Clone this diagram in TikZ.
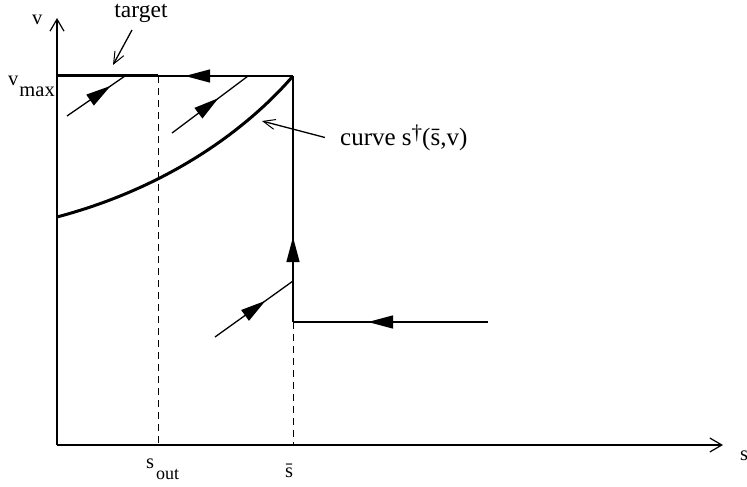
\documentclass[tikz,border=0pt]{standalone}
\usepackage{fontspec}
\setmainfont{Liberation Serif}
\usetikzlibrary{arrows.meta,decorations.markings}
\tikzset{
  thinl/.style={line width=1.3pt},
  thickl/.style={line width=3pt},
  dashl/.style={line width=1pt,dash pattern=on 7pt off 5pt},
  lbl/.style={inner sep=0pt,font=\fontsize{20.5}{24}\selectfont},
  biglbl/.style={inner sep=0pt,font=\fontsize{23.5}{27}\selectfont},
  curvelbl/.style={inner sep=0pt,font=\fontsize{25}{29}\selectfont},
  midarrow/.style={postaction={decorate},decoration={markings,
     mark=at position #1 with {\arrow{Triangle[length=25pt,width=13pt]}}}},
  axarrow/.style={-{Straight Barb[length=12pt,width=14pt,line width=1.2pt]}},
  ptr/.style={thinl,-{Straight Barb[length=12pt,width=10pt,line width=1pt]}}
}
\begin{document}
\begin{tikzpicture}[x=1pt,y=-1pt]
\useasboundingbox (0,0) rectangle (747,487);
% key points
\coordinate (O) at (57,445);
\coordinate (ytop) at (57,18);
\coordinate (xend) at (723,445);
\coordinate (vm) at (57,76);
\coordinate (so) at (158,76);
\coordinate (corner) at (293,76);
\coordinate (sbot) at (158,445);
\coordinate (bbot) at (293,445);
\coordinate (knee) at (293,322);
\coordinate (hend) at (488,322);
\coordinate (c0) at (57,217);
% axes
\draw[thinl,axarrow] (O) -- (ytop);
\draw[thinl,axarrow] (O) -- (xend);
% dashed guides
\draw[dashl] (so) -- (sbot);
\draw[dashl] (knee) -- (bbot);
% target and top line
\draw[thickl] (vm) -- (so);
\draw[thinl,midarrow=108pt] (corner) -- (so);
% vertical line
\draw[thinl,midarrow=85pt] (knee) -- (corner);
% horizontal incoming
\draw[thinl,midarrow=120pt] (hend) -- (knee);
% curve
\draw[thickl] (c0) .. controls (170,187) and (248,128) .. (corner);
% diagonal trajectories
\coordinate (d1a) at (67,116); \coordinate (d1b) at (125,76);
\coordinate (d2a) at (172,133); \coordinate (d2b) at (248,76);
\coordinate (d3a) at (215,337); \coordinate (d3b) at (293,281);
\draw[thinl,midarrow=53pt] (d1a) -- (d1b);
\draw[thinl,midarrow=58pt] (d2a) -- (d2b);
\draw[thinl,midarrow=62pt] (d3a) -- (d3b);
% labels
\node[lbl,anchor=base west] (vlab) at (32,25) {v};
\node[lbl,anchor=base west] (vmax) at (8,85) {v\hspace{1pt}\raisebox{-11pt}{max}};
\node[biglbl,anchor=base] (tlab) at (141,18) {target};
\coordinate (tptr) at (113,65);
\draw[ptr] (132,30) -- (tptr);
\node[curvelbl,anchor=base west] (clab) at (340,145) {curve s\raisebox{0.5ex}{\fontsize{21}{24}\selectfont †}(\=s,v)};
\coordinate (cptr) at (262,121);
\draw[ptr] ([xshift=-15pt]clab.west) -- (cptr);
\node[lbl,anchor=base west] (solab) at (146,468) {s\hspace{2pt}\raisebox{-11pt}{\fontsize{18}{21}\selectfont out}};
\node[lbl,anchor=base] (sblab) at (289,477) {\=s};
\node[lbl,anchor=base west] (slab) at (740,460) {s};
\end{tikzpicture}
\end{document}
